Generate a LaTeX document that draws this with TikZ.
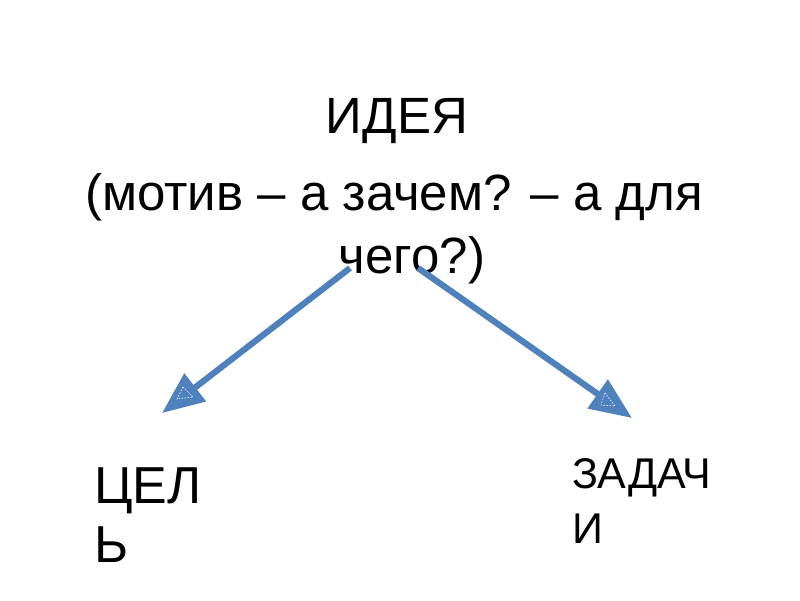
\documentclass[tikz,border=0pt]{standalone}
\usepackage{fontspec}
\setmainfont{Liberation Sans}
\usetikzlibrary{arrows.meta}
\definecolor{arrowblue}{HTML}{4F81BD}
\tikzset{
  txt/.style={inner sep=0pt, outer sep=0pt, font=\fontsize{51}{60}\selectfont},
  bigtxt/.style={inner sep=0pt, outer sep=0pt, font=\fontsize{52}{60}\selectfont},
  smalltxt/.style={inner sep=0pt, outer sep=0pt, font=\fontsize{43}{50}\selectfont},
  link/.style={draw=arrowblue, line width=6.2pt, -{Triangle[length=42pt,width=34pt]}},
  selmark/.style={draw=white, line width=0.6pt, dash pattern=on 1.5pt off 1.5pt}
}
\begin{document}
\begin{tikzpicture}[x=1pt,y=-1pt]
\path[use as bounding box, fill=white] (0,0) rectangle (800,600);
\node[txt, anchor=base] (idea) at (397,133) {ИДЕЯ};
\node[txt, anchor=base] (motiv) at (394,210) {(мотив – а зачем? – а для};
\node[txt, anchor=base] (chego) at (412,273) {чего?)};
\node[bigtxt, anchor=base west] (cel1) at (94,503) {ЦЕЛ};
\node[bigtxt, anchor=base west] (cel2) at (94,562) {Ь};
\node[smalltxt, anchor=base west] (zad1) at (572,488) {ЗАДАЧ};
\node[smalltxt, anchor=base west] (zad2) at (572,543) {И};
\coordinate (s1) at (350,268);
\coordinate (e1) at (162,413);
\coordinate (s2) at (418,268);
\coordinate (e2) at (632,418);
\draw[link] (s1) -- (e1);
\draw[link] (s2) -- (e2);
\draw[selmark] (183,387) -- (177,399) -- (193,397) -- cycle;
\draw[selmark] (605,393) -- (601,405) -- (615,406) -- cycle;
\end{tikzpicture}
\end{document}
